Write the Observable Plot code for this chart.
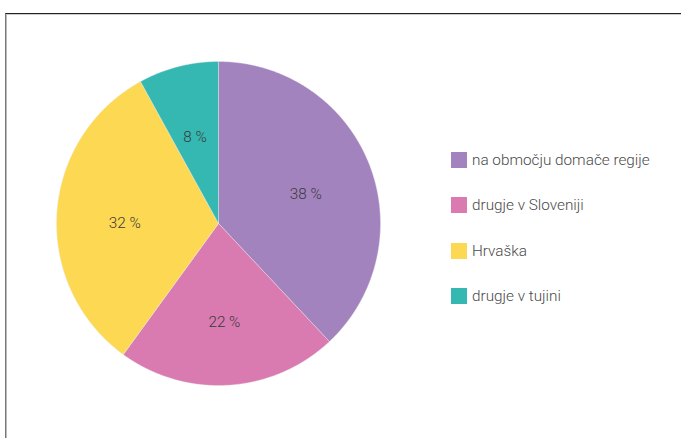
<!DOCTYPE html>
<html>
<head>
<meta charset="utf-8">
<script src="https://cdn.jsdelivr.net/npm/d3@7"></script>
<script src="https://cdn.jsdelivr.net/npm/@observablehq/plot@0.6"></script>
<style>
  html, body { margin: 0; padding: 0; background: #fff; }
  #wrap { position: relative; width: 681px; height: 438px; overflow: hidden; font-family: Roboto, "Open Sans", sans-serif; }
  #frame { position: absolute; left: 5px; top: 13px; width: 720px; height: 480px; border-top: 1px solid #222; border-left: 1px solid #777; box-shadow: inset 0 1px 0 #ccc, inset 1px 0 0 #bbb; }
  #chart { position: absolute; left: 0; top: 0; }
  #legend { position: absolute; left: 451px; top: 152px; }
  .row { display: flex; align-items: center; height: 16px; margin-bottom: 29.4px; }
  .sw { width: 16px; height: 16px; margin-right: 5px; flex: none; }
  .lt { font-size: 15.3px; font-weight: 300; color: #4a4a4a; white-space: nowrap; }
</style>
</head>
<body>
<div id="wrap">
  <div id="frame"></div>
  <div id="chart"></div>
  <div id="legend"></div>
</div>
<script>
const categories = ["na območju domače regije", "drugje v Sloveniji", "Hrvaška", "drugje v tujini"];
const values = [38, 22, 32, 8];
const labels = ["38 %", "22 %", "32 %", "8 %"];
const colors = ["#A383BE", "#D97AB1", "#FDD853", "#35B8B1"];

const arcs = d3.pie().sort(null).value(d => d)(values);

const polys = [];
arcs.forEach((a, i) => {
  const key = categories[i];
  polys.push({key, x: 0, y: 0});
  const n = Math.max(2, Math.ceil((a.endAngle - a.startAngle) / 0.005));
  for (let k = 0; k <= n; k++) {
    const t = a.startAngle + (a.endAngle - a.startAngle) * k / n;
    polys.push({key, x: Math.sin(t), y: Math.cos(t)});
  }
  polys.push({key, x: 0, y: 0});
});

const labelData = arcs.map((a, i) => {
  const m = (a.startAngle + a.endAngle) / 2;
  return {text: labels[i], x: 0.58 * Math.sin(m), y: 0.58 * Math.cos(m)};
});

const plot = Plot.plot({
  width: 681,
  height: 438,
  margin: 0,
  style: {background: "transparent", fontFamily: "Roboto, 'Open Sans', sans-serif"},
  x: {domain: [-1, 1], range: [56, 380], axis: null},
  y: {domain: [-1, 1], range: [385, 61], axis: null},
  color: {domain: categories, range: colors},
  marks: [
    Plot.line(polys, {x: "x", y: "y", z: "key", fill: "key", stroke: "#eee", strokeWidth: 0.4, curve: "linear"}),
    Plot.text(labelData, {x: "x", y: "y", text: "text", fill: "#3a3a3a", fontSize: 15.3, fontWeight: 300, dy: 5})
  ]
});
document.getElementById("chart").appendChild(plot);

const legend = document.getElementById("legend");
categories.forEach((c, i) => {
  const row = document.createElement("div");
  row.className = "row";
  const sw = document.createElement("div");
  sw.className = "sw";
  sw.style.background = colors[i];
  const lt = document.createElement("div");
  lt.className = "lt";
  lt.textContent = c;
  row.appendChild(sw);
  row.appendChild(lt);
  legend.appendChild(row);
});
</script>
</body>
</html>
